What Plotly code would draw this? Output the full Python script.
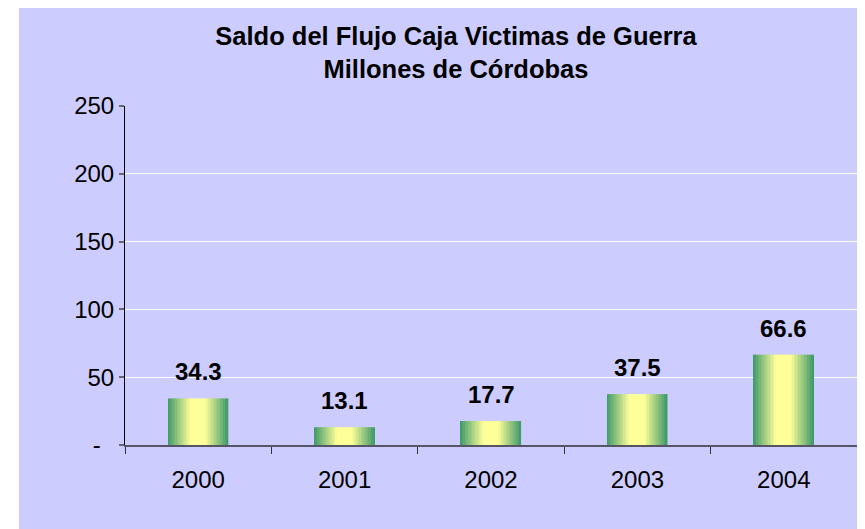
import plotly.graph_objects as go

categories = ["2000", "2001", "2002", "2003", "2004"]
values = [34.3, 13.1, 17.7, 37.5, 66.6]
value_labels = ["34.3", "13.1", "17.7", "37.5", "66.6"]
y_tickvals = [0, 50, 100, 150, 200, 250]
y_ticktext = ["-\u00a0\u00a0", "50", "100", "150", "200", "250"]

# page body has an 8px margin, so the figure is drawn 8px in from the top-left
OFF = 8
W, H = 865 - OFF, 529 - OFF
ML, MR, MT, MB = 125 - OFF, 8, 106 - OFF, 84
PW, PH = W - ML - MR, H - MT - MB

BG = "#CCCCFF"
GREEN = (62, 153, 105)
YELLOW = (255, 255, 153)

def grad_color(t):
    if t < 0.38:
        f = t / 0.38
    elif t > 0.62:
        f = (1 - t) / 0.38
    else:
        f = 1.0
    f = max(0.0, min(1.0, f))
    c = tuple(int(round(GREEN[i] + (YELLOW[i] - GREEN[i]) * f)) for i in range(3))
    return "rgb(%d,%d,%d)" % c

BAR_W = 0.41
N = 40
sw = BAR_W / N

fig = go.Figure()
for i in range(N):
    t = (i + 0.5) / N
    fig.add_trace(go.Bar(
        x=categories, y=values,
        width=[sw * 1.06] * len(categories),
        offset=[-BAR_W / 2 + i * sw] * len(categories),
        marker=dict(color=grad_color(t), line=dict(width=0)),
        showlegend=False, hoverinfo="skip",
    ))

annotations = []
for idx, (v, lab) in enumerate(zip(values, value_labels)):
    annotations.append(dict(
        x=idx, y=v, xref="x", yref="y", text="<b>%s</b>" % lab,
        showarrow=False, yanchor="bottom", yshift=11,
        font=dict(family="Liberation Sans, Arial", size=24, color="black"),
    ))

fig.update_layout(
    width=W, height=H,
    margin=dict(l=ML, r=MR, t=MT, b=MB, pad=0),
    paper_bgcolor="white",
    plot_bgcolor=BG,
    barmode="overlay",
    title=dict(
        text="<b>Saldo del Flujo Caja Victimas de Guerra<br>Millones de Córdobas</b>",
        x=448 / W, xref="container", xanchor="center",
        y=1 - 37 / H, yref="container", yanchor="top",
        font=dict(family="Liberation Sans, Arial", size=25.5, color="black"),
    ),
    annotations=annotations,
    shapes=[dict(
        type="rect", xref="paper", yref="paper", layer="below",
        x0=(19 - OFF - ML) / PW, x1=(W - ML) / PW + 0.02,
        y0=-(MB + 5) / PH, y1=(H - MB + 5) / PH,
        fillcolor=BG, line=dict(width=0),
    )],
    font=dict(family="Liberation Sans, Arial", size=24, color="black"),
)

fig.update_xaxes(
    type="category", range=[-0.5, 4.5],
    tickson="boundaries", ticks="outside", ticklen=7, tickcolor="#333333", tickwidth=1,
    showline=True, linecolor="#555566", linewidth=2,
    showgrid=False, zeroline=False,
    tickfont=dict(size=24, color="black"),
    ticklabelstandoff=12,
)
fig.update_yaxes(
    range=[0, 250], tickvals=y_tickvals, ticktext=y_ticktext,
    ticks="outside", ticklen=5, tickcolor="#666677", tickwidth=2,
    showline=True, linecolor="black", linewidth=1,
    showgrid=True, gridcolor="white", gridwidth=1,
    zeroline=False,
    tickfont=dict(size=24, color="black"),
    ticklabelstandoff=0,
)

fig.write_html("out.html")
